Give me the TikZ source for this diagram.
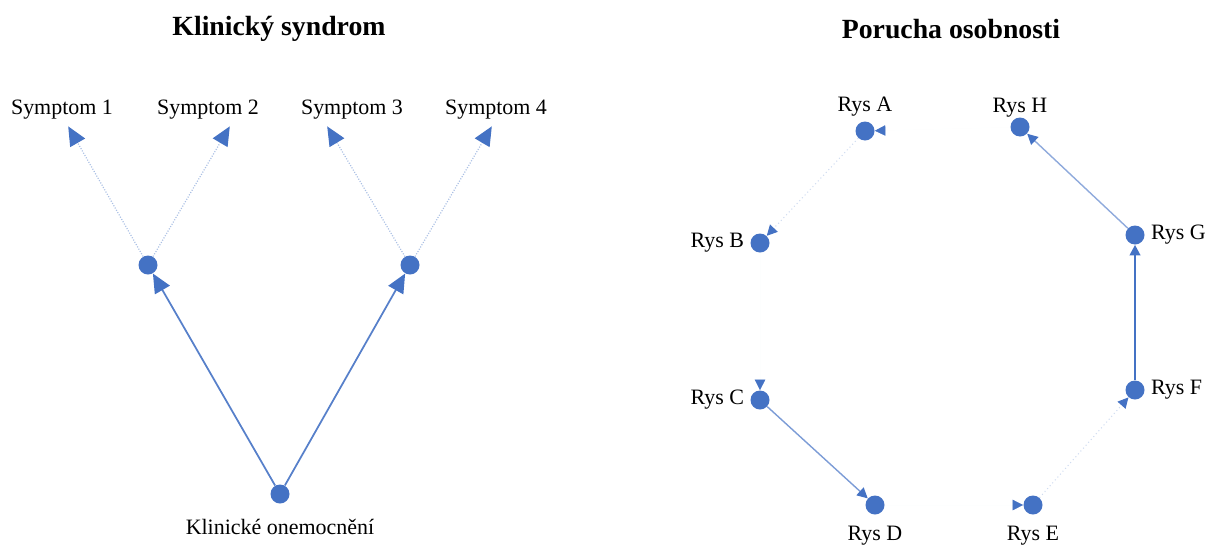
\documentclass[tikz,border=0pt]{standalone}
\usepackage{fontspec}
\setmainfont{Liberation Serif}
\usepackage{tikz}
\usetikzlibrary{arrows.meta}
\definecolor{nb}{HTML}{4472C4}
\tikzstyle{bead}=[circle,fill=nb,inner sep=0pt,minimum size=0.38cm,label distance=1pt]
\tikzstyle{symend}=[inner sep=0pt,minimum size=0pt]
\tikzstyle{heading}=[font=\fontsize{15.8}{18}\selectfont\bfseries]
\tikzstyle{bigtip}=[-{Triangle[length=0.38cm,width=0.34cm,color=nb]}]
\tikzstyle{smalltip}=[-{Triangle[length=0.21cm,width=0.21cm,color=nb]}]

\begin{document}
\begin{tikzpicture}
	[x=0.02cm,y=-0.02cm,font=\fontsize{12.5}{15}\selectfont]
	\tikzstyle{weak}=[draw=nb!45,line width=0.7pt,dash pattern=on 0.6pt off 0.9pt];
	\tikzstyle{faint}=[draw=nb!25,line width=0.6pt,dash pattern=on 0.6pt off 1.6pt];
	\tikzstyle{none}=[draw=nb!1,line width=0.3pt];
	\tikzstyle{mid}=[draw=nb!70,line width=0.8pt];
	\tikzstyle{strong}=[draw=nb,line width=1.3pt];
	\useasboundingbox (0,0) rectangle (1219,545);

	% klinicky syndrom
	\node (t1) [heading] at (279,29) {Klinický syndrom};
	\node (s1) [symend,label={[xshift=-0.12cm]above:Symptom 1}] at (68,126) {};
	\node (s2) [symend,label={[xshift=-0.44cm]above:Symptom 2}] at (230,126) {};
	\node (s3) [symend,label={[xshift=0.5cm]above:Symptom 3}] at (327,126) {};
	\node (s4) [symend,label={[xshift=0.08cm]above:Symptom 4}] at (492,126) {};
	\node (m1) [bead] at (148,265) {};
	\node (m2) [bead] at (410,265) {};
	\node (k) [bead,label={[label distance=5pt]below:Klinické onemocnění}] at (280,494) {};

	\path[bigtip]
		(m1) edge[weak] (s1)
		(m1) edge[weak] (s2)
		(m2) edge[weak] (s3)
		(m2) edge[weak] (s4)
		(k) edge[draw=nb!90,line width=1pt] (m1)
		(k) edge[draw=nb!90,line width=1pt] (m2);

	% porucha osobnosti
	\node (t2) [heading] at (951,29) {Porucha osobnosti};
	\node (a) [bead,label={[label distance=-1pt]above:Rys A}] at (865,131) {};
	\node (h) [bead,label={[label distance=-3.4pt]above:Rys H}] at (1020,127) {};
	\node (b) [bead,label=left:Rys B] at (760,243) {};
	\node (g) [bead,label=right:Rys G] at (1135,235) {};
	\node (c) [bead,label=left:Rys C] at (760,400) {};
	\node (f) [bead,label=right:Rys F] at (1135,390) {};
	\node (d) [bead,label={[label distance=3pt]below:Rys D}] at (875,505) {};
	\node (e) [bead,label={[label distance=3pt]below:Rys E}] at (1033,505) {};

	\path[smalltip]
		(a) edge[faint] (b)
		(b) edge[none] (c)
		(c) edge[mid] (d)
		(d) edge[none] (e)
		(e) edge[faint] (f)
		(f) edge[strong] (g)
		(g) edge[draw=nb!60,line width=0.8pt] (h)
		(h) edge[none] (a);
\end{tikzpicture}
\end{document}
